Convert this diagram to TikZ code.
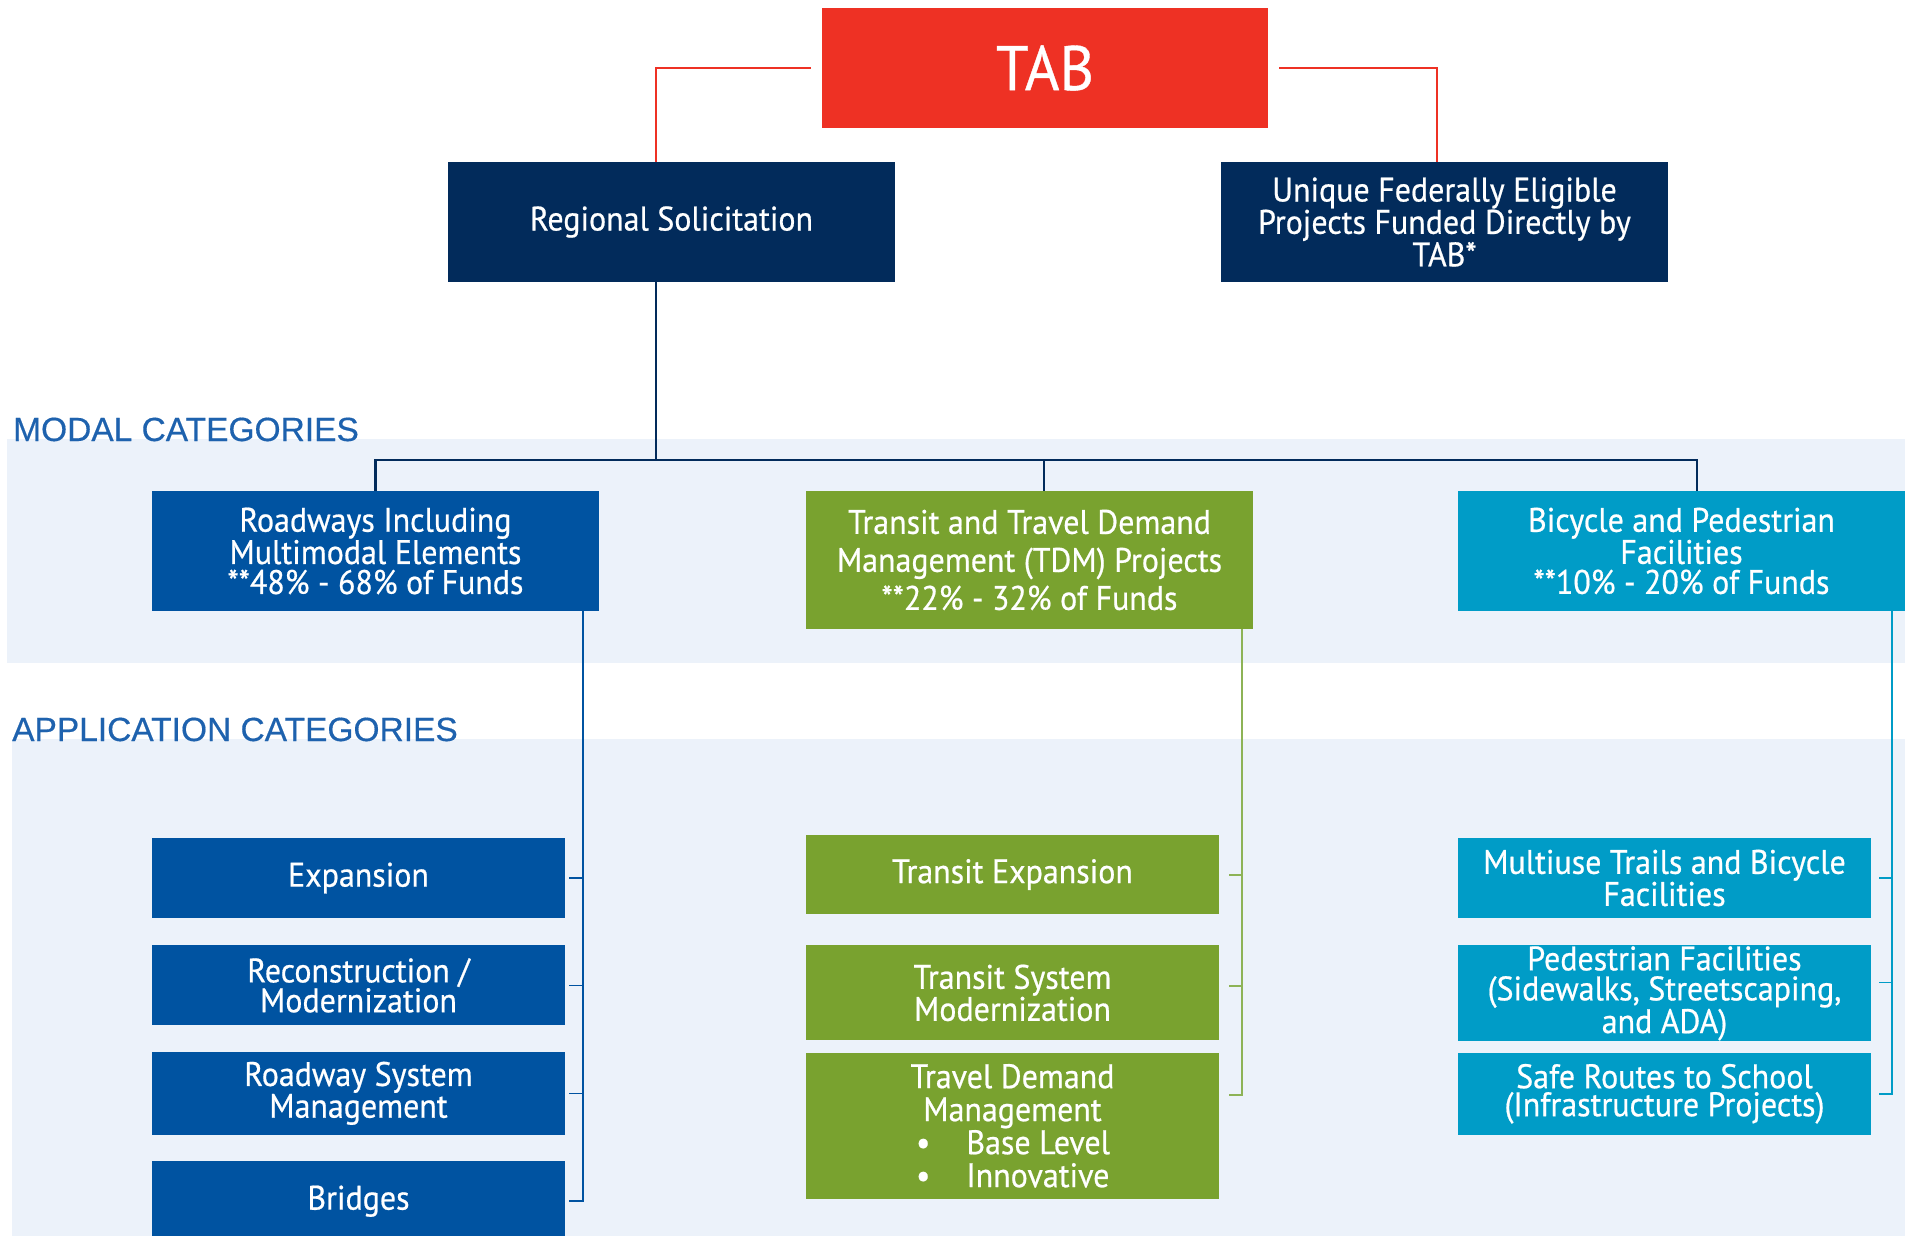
\documentclass[tikz,border=0pt]{standalone}
\usepackage{fontspec}
\setmainfont{PT Sans}[FakeBold=0.6, FakeStretch=0.94]
\newfontfamily\catfont{Liberation Sans}[FakeBold=0.4]
\usetikzlibrary{positioning}
\definecolor{tabred}{HTML}{EE3124}
\definecolor{navy}{HTML}{022B5B}
\definecolor{roadblue}{HTML}{0053A1}
\definecolor{tdmgreen}{HTML}{79A22F}
\definecolor{spinegreen}{HTML}{8DB356}
\definecolor{bikecyan}{HTML}{009CC7}
\definecolor{bandblue}{HTML}{ECF2FA}
\definecolor{cattext}{HTML}{1E62AE}

\begin{document}
\begin{tikzpicture}[x=1pt, y=-1pt, node distance=27pt,
  box/.style = {rectangle, inner sep=0pt, align=center, text=white, minimum width=447pt, minimum height=120pt, font=\fontsize{34}{30}\selectfont},
  appbox/.style = {box, minimum width=413pt, minimum height=80pt, font=\fontsize{34}{28}\selectfont},
  catlabel/.style = {anchor=base west, inner sep=0pt, text=cattext, font=\catfont\fontsize{33.5}{33.5}\selectfont},
  redline/.style = {draw=tabred, line width=2pt},
  navyline/.style = {draw=navy, line width=2.5pt},
  roadline/.style = {draw=roadblue, line width=1.5pt},
  greenline/.style = {draw=spinegreen, line width=2pt},
  cyanline/.style = {draw=bikecyan, line width=1.5pt}]

\useasboundingbox[fill=white] (0,0) rectangle (1905,1236);

% Bands
\fill[bandblue] (7,439) rectangle (1905,663);
\fill[bandblue] (12,739) rectangle (1905,1236);
\node[catlabel] (modal) at (13,441) {MODAL CATEGORIES};
\node[catlabel] (application) at (12,741) {APPLICATION CATEGORIES};

% Nodes
\node (tab) [box, fill=tabred, minimum width=446pt, font=\fontsize{63}{63}\selectfont] at (1045,68) {TAB};
\node (regional) [box, fill=navy] at (671.5,222) {Regional Solicitation};
\node (unique) [box, fill=navy] at (1444.5,222) {Unique Federally Eligible\\Projects Funded Directly by\\TAB*};

\node (roads) [box, fill=roadblue] at (375.5,551) {Roadways Including\\Multimodal Elements\\**48\% - 68\% of Funds};
\node (tdm) [box, fill=tdmgreen, minimum height=138pt, font=\fontsize{34}{38}\selectfont] at (1029.5,560) {Transit and Travel Demand\\Management (TDM) Projects\\**22\% - 32\% of Funds};
\node (bike) [box, fill=bikecyan] at (1681.5,551) {Bicycle and Pedestrian\\Facilities\\**10\% - 20\% of Funds};

\node (expansion) [appbox, fill=roadblue] at (358.5,878) {Expansion};
\node (recon) [appbox, fill=roadblue, below=27pt of expansion] {Reconstruction /\\Modernization};
\node (rsm) [appbox, fill=roadblue, minimum height=83pt, below=26pt of recon] {Roadway System\\Management};
\node (bridges) [appbox, fill=roadblue, below=26pt of rsm] {Bridges};

\node (transexp) [appbox, fill=tdmgreen, minimum height=79pt] at (1012.5,874.5) {Transit Expansion};
\node (tsm) [appbox, fill=tdmgreen, minimum height=95pt, below=31pt of transexp] {Transit System\\Modernization};
\node (tdmapp) [appbox, fill=tdmgreen, minimum height=146pt, below=12pt of tsm, font=\fontsize{34}{33}\selectfont] {Travel Demand\\Management\\\makebox[193pt][l]{\textbullet\hspace{36pt}Base Level}\\\makebox[193pt][l]{\textbullet\hspace{36pt}Innovative}};

\node (multiuse) [appbox, fill=bikecyan] at (1664.5,878) {Multiuse Trails and Bicycle\\Facilities};
\node (ped) [appbox, fill=bikecyan, minimum height=96pt, below=27pt of multiuse, font=\fontsize{34}{30}\selectfont] {Pedestrian Facilities\\(Sidewalks, Streetscaping,\\and ADA)};
\node (safe) [appbox, fill=bikecyan, minimum height=82pt, below=11pt of ped] {Safe Routes to School\\(Infrastructure Projects)};

% Lines
\draw[redline] ([xshift=-11pt]tab.west) -| ([xshift=-15.5pt]regional.north);
\draw[redline] ([xshift=11pt]tab.east) -| ([xshift=-7.5pt]unique.north);

\coordinate (hub) at (656,460);
\draw[navyline] ([xshift=-15.5pt]regional.south) -- (hub);
\draw[navyline] (hub) -| (roads.north);
\draw[navyline] (hub) -| ([xshift=15.5pt]bike.north);
\draw[navyline] (hub) -| ([xshift=14.5pt]tdm.north);

\coordinate (rspine) at ([xshift=-16pt]roads.south east);
\draw[roadline] (rspine) |- ([xshift=4pt]bridges.east);
\foreach \n in {expansion, recon, rsm}
  \draw[roadline] ([xshift=4pt]\n.east) -- (\n.east -| rspine);

\coordinate (gspine) at ([xshift=-11pt]tdm.south east);
\draw[greenline] (gspine) |- ([xshift=10pt,yshift=-42pt]tdmapp.north east);
\draw[greenline] ([xshift=10pt]transexp.east) -- (transexp.east -| gspine);
\draw[greenline] ([xshift=10pt,yshift=7pt]tsm.east) -- ([yshift=7pt]tsm.east -| gspine);

\coordinate (cspine) at ([xshift=-13pt]bike.south east);
\draw[cyanline] (cspine) |- ([xshift=8pt]safe.east);
\draw[cyanline] ([xshift=8pt]multiuse.east) -- (multiuse.east -| cspine);
\draw[cyanline] ([xshift=8pt,yshift=11pt]ped.east) -- ([yshift=11pt]ped.east -| cspine);
\end{tikzpicture}
\end{document}
